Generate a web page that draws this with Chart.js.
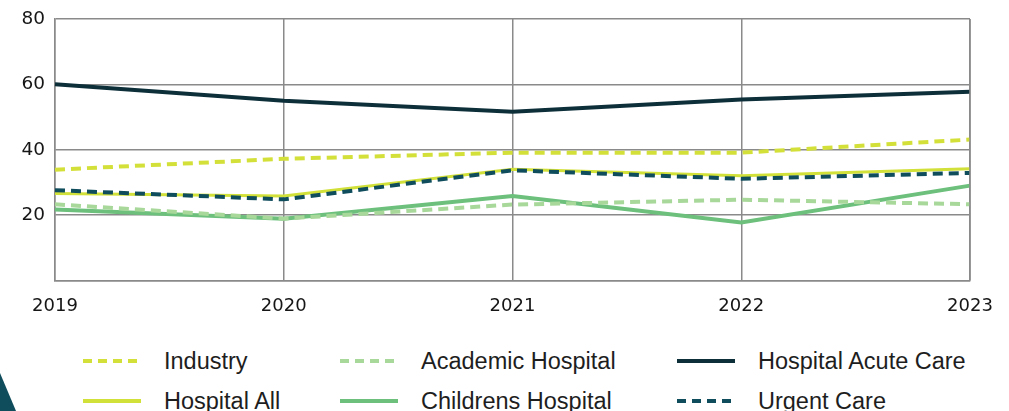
<!DOCTYPE html>
<html>
<head>
<meta charset="utf-8">
<script src="https://cdn.jsdelivr.net/npm/chart.js@4"></script>
<style>
  html, body { margin:0; padding:0; background:#fff; width:1009px; height:411px; overflow:hidden; }
  #wrap { position:relative; width:1009px; height:411px; }
  #c { position:absolute; left:0; top:0; }
  .leg { position:absolute; font-family: "Liberation Sans", Arial, sans-serif; font-size:23.5px; color:#1e1e1e; display:flex; align-items:center; white-space:nowrap; }
  .leg canvas { margin-right:23px; }
  #tri { position:absolute; left:0; top:373px; width:16px; height:38px; background:#0f4c5c; clip-path: polygon(0 0, 100% 100%, 0 100%); }
</style>
</head>
<body>
<div id="wrap">
  <canvas id="c" width="1009" height="344"></canvas>
  <div id="legend"></div>
  <div id="tri"></div>
</div>
<script>
const years = ['2019', '2020', '2021', '2022', '2023'];
const yTicks = [80, 60, 40, 20];

const industry         = [33.9, 37.2, 39.1, 39.1, 43.1];
const academicHospital = [23.3, 18.9, 23.2, 24.7, 23.3];
const hospitalAcute    = [60.0, 55.0, 51.6, 55.4, 57.7];
const hospitalAll      = [26.6, 25.8, 34.0, 32.0, 34.2];
const childrensHosp    = [21.7, 18.9, 25.8, 17.7, 29.0];
const urgentCare       = [27.6, 24.8, 33.7, 31.1, 32.9];

const datasets = [
  { label:'Industry', data:industry, borderColor:'#d4e03a', borderDash:[10,6], borderWidth:4 },
  { label:'Academic Hospital', data:academicHospital, borderColor:'#a8d89a', borderDash:[10,6], borderWidth:4 },
  { label:'Hospital Acute Care', data:hospitalAcute, borderColor:'#0d2f3a', borderWidth:4 },
  { label:'Hospital All', data:hospitalAll, borderColor:'#d2e03a', borderWidth:3 },
  { label:'Childrens Hospital', data:childrensHosp, borderColor:'#6cc07c', borderWidth:4 },
  { label:'Urgent Care', data:urgentCare, borderColor:'#0f4c5c', borderDash:[10,6], borderWidth:4 },
];
// draw order: back to front
const drawOrder = [2, 0, 5, 3, 1, 4];
datasets.forEach((d, i) => { d.order = drawOrder.indexOf(i); d.pointRadius = 0; d.tension = 0; d.fill = false; d.backgroundColor = d.borderColor; });

const tickFont = '"DejaVu Sans", sans-serif';
const chart = new Chart(document.getElementById('c'), {
  type: 'line',
  data: { labels: years, datasets },
  options: {
    responsive: false,
    animation: false,
    layout: { padding: { left: 0, right: 39, top: 19, bottom: 12 } },
    plugins: { legend: { display:false }, tooltip: { enabled:false } },
    scales: {
      x: {
        offset: false,
        grid: { color:'#8a8a8a', lineWidth:1.5, drawTicks:false },
        border: { display:true, color:'#8a8a8a', width:1.5 },
        ticks: { padding:15, color:'#161616', font:{ family:tickFont, size:18 }, maxRotation:0 },
        afterFit(s) { s.paddingLeft = 0; s.paddingRight = 0; }
      },
      y: {
        min: 0, max: 80,
        afterBuildTicks(s) { s.ticks = [0, ...yTicks.slice().reverse()].map(v => ({ value:v })); },
        grid: { color:'#8a8a8a', lineWidth:1.5, drawTicks:false },
        border: { display:true, color:'#8a8a8a', width:1.5 },
        ticks: { padding:10, color:'#161616', font:{ family:tickFont, size:18.5 },
                 callback: v => (yTicks.includes(v) ? String(v) : '') },
        afterFit(s) { s.width = 55; s.paddingTop = 0; s.paddingBottom = 0; }
      }
    }
  },
  plugins: [{
    id: 'rightTopBorder',
    afterDraw(ch) {
      const a = ch.chartArea, ctx = ch.ctx;
      ctx.save(); ctx.strokeStyle = '#8a8a8a'; ctx.lineWidth = 1.5;
      ctx.beginPath(); ctx.moveTo(a.right, a.top); ctx.lineTo(a.right, a.bottom); ctx.stroke();
      ctx.restore();
    }
  }]
});

// HTML legend built from the chart datasets
const colX = [83, 340, 677];
const rowY = [361, 401];
const legend = document.getElementById('legend');
chart.data.datasets.forEach((d, i) => {
  const col = i % 3, row = Math.floor(i / 3);
  const item = document.createElement('div');
  item.className = 'leg';
  item.style.left = colX[col] + 'px';
  item.style.top = (rowY[row] - 14) + 'px';
  item.style.height = '28px';
  const sw = document.createElement('canvas');
  sw.width = 58; sw.height = 28;
  const g = sw.getContext('2d');
  g.strokeStyle = d.borderColor; g.lineWidth = 4;
  if (d.borderDash) g.setLineDash([9, 6]);
  g.beginPath(); g.moveTo(0, 14); g.lineTo(58, 14); g.stroke();
  item.appendChild(sw);
  const t = document.createElement('span');
  t.textContent = d.label;
  item.appendChild(t);
  legend.appendChild(item);
});
</script>
</body>
</html>
